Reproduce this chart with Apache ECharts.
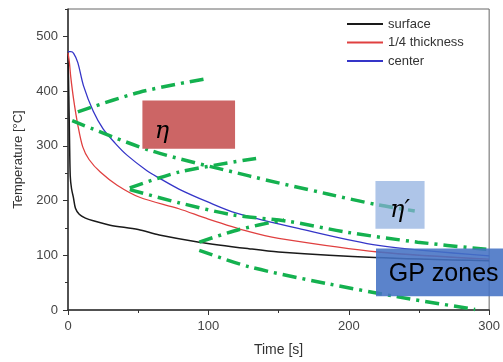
<!DOCTYPE html>
<html><head><meta charset="utf-8">
<script src="https://cdn.jsdelivr.net/npm/echarts@6/dist/echarts.min.js"></script>
<style>html,body{margin:0;padding:0;background:#fff}#c{width:503px;height:362px}</style>
</head><body><div id="c"></div>
<script>
// Temperature curves [time s, temperature °C]
const surface = [[0,470],[0.6,390],[1.1,310],[1.6,245],[2.5,222],[3.9,205],[5.3,186],[8,175],[12.4,168],[18,163],[30,155],[50,147],[65,137],[93.5,124],[128.8,112],[150,106],[218.5,96],[300,90]];
const quarter = [[0,470],[1,452],[2,425],[4,385],[7,338],[10.5,298],[15,275],[23,252],[35,228],[51,206],[79,185],[100,166],[129,143],[150,131],[221,106],[300,93]];
const center = [[0,472],[2,472],[4,469],[7,452],[11,410],[18,363],[25,331],[33.5,305],[42,283],[56,255],[65,241],[79,221],[100,197],[120,177],[164,149],[221,118],[300,99]];
// Hand-drawn dash-dot precipitation boundaries
const bndA = [[3,346],[58,292],[129,245],[185,212],[221,192],[247,181]];
const bndB = [[7,362],[51,398],[97,422]];
const bndC = [[44,223],[79,252],[134,277]];
const bndD = [[44,220],[79,196],[117,174],[157,162],[199,142],[249,124],[298,111]];
const bndE = [[93.5,124],[122,147],[154,165]];
const bndF = [[93.5,109],[129,79],[185,48],[235,24],[290,1]];
// Zone boxes: [t1, T1, t2, T2, labelT, labelTemp]
const zoneBoxes = [[53,294.5,119,383,67,326],[219,148.4,254,235.7,236.5,182],[219.4,25,320,112.4,228.5,66]];
const zoneLabels = ['η','η′','GP zones'];
const xTicks = [0,100,200,300];
const yTicks = [0,100,200,300,400,500];

const boxFills = ['#cc6565','rgba(140,172,222,0.7)','rgba(68,114,196,0.88)'];
const boxFonts = ['italic 24px "DejaVu Serif"','italic 24px "DejaVu Serif"','25px "Liberation Sans"'];
const boxAligns = ['center','center','left'];

const chart = echarts.init(document.getElementById('c'), null, {renderer:'canvas'});
const green = '#14b14f';
function bnd(name, data){
  return {name:name, type:'line', data:data, symbol:'none', smooth:0.3, silent:true, z:3,
    lineStyle:{color:green, width:3.5, type:[14,6,3,6]}};
}
const font = 'Liberation Sans';
chart.setOption({
  animation:false,
  textStyle:{fontFamily:font},
  grid:{left:68, right:10, top:9, bottom:48, show:true, borderColor:'#666', borderWidth:1},
  legend:{data:['surface','1/4 thickness','center'], orient:'vertical', left:347, top:17.5,
    icon:'rect', itemWidth:36, itemHeight:2, itemGap:5.5, padding:0,
    textStyle:{fontSize:13, color:'#333', fontFamily:font}},
  xAxis:{type:'value', min:xTicks[0], max:xTicks[xTicks.length-1], interval:100,
    name:'Time [s]', nameLocation:'middle', nameGap:33,
    nameTextStyle:{fontSize:14, color:'#333', fontFamily:font},
    axisLine:{lineStyle:{color:'#333', width:1.5}},
    axisTick:{length:5, lineStyle:{color:'#333'}},
    minorTick:{show:true, splitNumber:2, length:3, lineStyle:{color:'#333'}},
    splitLine:{show:false},
    axisLabel:{fontSize:13, color:'#444', margin:10}},
  yAxis:[{type:'value', min:0, max:550, interval:100,
    name:'Temperature [°C]', nameLocation:'middle', nameGap:37,
    nameTextStyle:{fontSize:13, color:'#333', fontFamily:font},
    axisLine:{lineStyle:{color:'#333', width:1.5}},
    axisTick:{length:5, lineStyle:{color:'#333'}},
    splitLine:{show:false},
    axisLabel:{fontSize:13, color:'#444', margin:10, showMaxLabel:false,
      formatter:function(v){return yTicks.indexOf(v)>=0 ? String(v) : '';}}},
    {type:'value', min:0, max:550, interval:50, position:'left',
    axisLine:{show:false}, axisLabel:{show:false}, splitLine:{show:false},
    axisTick:{length:3, lineStyle:{color:'#333'}}}],
  series:[
    {name:'surface', type:'line', data:surface, symbol:'none', smooth:0.3, z:2, lineStyle:{color:'#1a1a1a', width:1.5}, itemStyle:{color:'#1a1a1a'}},
    {name:'1/4 thickness', type:'line', data:quarter, symbol:'none', smooth:0.3, z:2, lineStyle:{color:'#e04040', width:1.3}, itemStyle:{color:'#e04040'}},
    {name:'center', type:'line', data:center, symbol:'none', smooth:0.3, z:2, lineStyle:{color:'#3535c8', width:1.3}, itemStyle:{color:'#3535c8'}},
    bnd('A',bndA), bnd('B',bndB), bnd('C',bndC), bnd('D',bndD), bnd('E',bndE), bnd('F',bndF),
    {name:'zones', type:'custom', data:zoneBoxes, clip:false, z:5, silent:true,
      encode:{x:[0,2], y:[1,3]},
      renderItem:function(params, api){
        const i = params.dataIndex;
        const p1 = api.coord([api.value(0), api.value(3)]);
        const p2 = api.coord([api.value(2), api.value(1)]);
        const t = api.coord([api.value(4), api.value(5)]);
        return {type:'group', children:[
          {type:'rect', shape:{x:p1[0], y:p1[1], width:p2[0]-p1[0], height:p2[1]-p1[1]}, style:{fill:boxFills[i]}},
          {type:'text', x:t[0], y:t[1], style:{text:zoneLabels[i], fill:'#000', font:boxFonts[i], align:boxAligns[i], verticalAlign:'middle'}}
        ]};
      }}
  ]
});
</script></body></html>
